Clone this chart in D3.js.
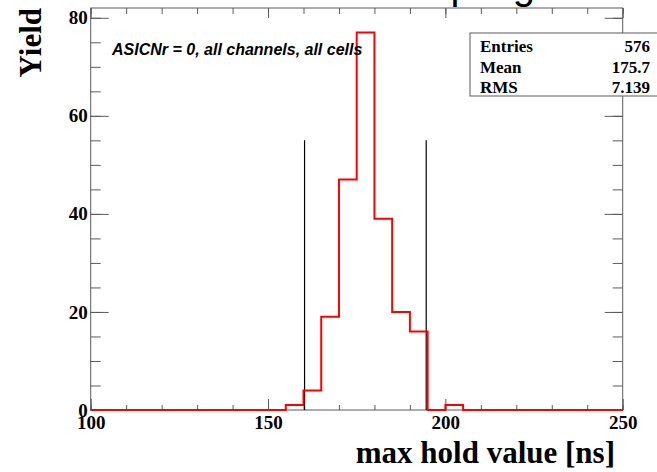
<!DOCTYPE html>
<html>
<head>
<meta charset="utf-8">
<script src="https://cdn.jsdelivr.net/npm/d3@7"></script>
<style>
body { margin: 0; background: #fff; }
svg { display: block; }
</style>
</head>
<body>
<div class="graph"></div>
<script>
// histogram contents: low edge of each filled bin (5 ns wide), everything else empty
const binLow = [155, 160, 165, 170, 175, 180, 185, 190, 195, 200]
const binCounts = [1, 4, 19, 47, 77, 39, 20, 16, 0, 1]
const binWidth = 5
const xRange = [100, 250]
const yRange = [0, 82]

// the two black cut lines
const cutValues = [160.3, 194.6]
const cutHeight = 55

const xLabels = [100, 150, 200, 250]
const yLabels = [0, 20, 40, 60, 80]

const statNames = ['Entries', 'Mean', 'RMS']
const statValues = ['576', '175.7', '7.139']

const dim = {
    w: 657,
    h: 472,
    left: 90.7,
    right: 622.7,
    top: 8,
    bottom: 410
}
const frameColor = '#5a5a5a'
const serif = '"Liberation Serif", "Times New Roman", serif'

const svg = d3.select('.graph')
    .append('svg')
    .attr('width', dim.w)
    .attr('height', dim.h)

const xScale = d3.scaleLinear()
    .domain(xRange)
    .range([dim.left, dim.right])

const yScale = d3.scaleLinear()
    .domain(yRange)
    .range([dim.bottom, dim.top])

// slide title, only the descenders peek in at the top
svg.append('text')
    .attr('x', 535)
    .attr('y', -1)
    .attr('text-anchor', 'end')
    .style('font-family', '"Liberation Sans", Arial, sans-serif')
    .style('font-size', '40px')
    .text('Sampling')

// frame
svg.append('rect')
    .attr('x', dim.left)
    .attr('y', dim.top)
    .attr('width', dim.right - dim.left)
    .attr('height', dim.bottom - dim.top)
    .attr('fill', 'none')
    .attr('stroke', frameColor)
    .attr('stroke-width', 1)

const styleAxis = (g) => {
    g.select('.domain').remove()
    g.selectAll('line').attr('stroke', frameColor)
    g.selectAll('text')
        .attr('fill', '#000')
        .style('font-family', serif)
        .style('font-weight', 'bold')
        .style('font-size', '19px')
}

const xMinor = d3.range(xRange[0], xRange[1] + 1, 10)
const yMinor = d3.range(yRange[0], 81, 5)

// bottom axis
svg.append('g')
    .attr('transform', `translate(0,${dim.bottom})`)
    .call(d3.axisBottom(xScale).tickValues(xMinor).tickSizeInner(-5).tickSizeOuter(0).tickFormat(''))
    .call(styleAxis)
svg.append('g')
    .attr('transform', `translate(0,${dim.bottom})`)
    .call(d3.axisBottom(xScale).tickValues(xLabels).tickSizeInner(-11).tickSizeOuter(0).tickPadding(6).tickFormat(d3.format('d')))
    .call(styleAxis)

// top axis (ticks only)
svg.append('g')
    .attr('transform', `translate(0,${dim.top})`)
    .call(d3.axisTop(xScale).tickValues(xMinor).tickSizeInner(-6).tickSizeOuter(0).tickFormat(''))
    .call(styleAxis)
svg.append('g')
    .attr('transform', `translate(0,${dim.top})`)
    .call(d3.axisTop(xScale).tickValues(xLabels).tickSizeInner(-10).tickSizeOuter(0).tickFormat(''))
    .call(styleAxis)

// left axis
svg.append('g')
    .attr('transform', `translate(${dim.left},0)`)
    .call(d3.axisLeft(yScale).tickValues(yMinor).tickSizeInner(-10).tickSizeOuter(0).tickFormat(''))
    .call(styleAxis)
svg.append('g')
    .attr('transform', `translate(${dim.left},0)`)
    .call(d3.axisLeft(yScale).tickValues(yLabels).tickSizeInner(-18).tickSizeOuter(0).tickPadding(3).tickFormat(d3.format('d')))
    .call(styleAxis)

// right axis (ticks only)
svg.append('g')
    .attr('transform', `translate(${dim.right},0)`)
    .call(d3.axisRight(yScale).tickValues(yMinor).tickSizeInner(-10).tickSizeOuter(0).tickFormat(''))
    .call(styleAxis)
svg.append('g')
    .attr('transform', `translate(${dim.right},0)`)
    .call(d3.axisRight(yScale).tickValues(yLabels).tickSizeInner(-18).tickSizeOuter(0).tickFormat(''))
    .call(styleAxis)

// cut lines
svg.selectAll('.cut')
    .data(cutValues)
    .enter()
    .append('line')
    .attr('class', 'cut')
    .attr('x1', d => xScale(d))
    .attr('x2', d => xScale(d))
    .attr('y1', yScale(0))
    .attr('y2', yScale(cutHeight))
    .attr('stroke', '#000')
    .attr('stroke-width', 1.2)

// histogram outline
let steps = [[xRange[0], 0]]
binLow.forEach((lo, i) => steps.push([lo, binCounts[i]]))
steps.push([binLow[binLow.length - 1] + binWidth, 0])
steps.push([xRange[1], 0])

const histLine = d3.line()
    .x(d => xScale(d[0]))
    .y(d => yScale(d[1]))
    .curve(d3.curveStepAfter)

svg.append('path')
    .datum(steps)
    .attr('d', histLine)
    .attr('fill', 'none')
    .attr('stroke', '#ff0000')
    .attr('stroke-width', 2)

// label inside the pad
svg.append('text')
    .attr('x', 112)
    .attr('y', 55)
    .style('font-family', '"Liberation Sans", Arial, sans-serif')
    .style('font-weight', 'bold')
    .style('font-style', 'italic')
    .style('font-size', '16px')
    .text('ASICNr = 0, all channels, all cells')

// stats box
const stats = svg.append('g')
stats.append('rect')
    .attr('x', 470)
    .attr('y', 33)
    .attr('width', 200)
    .attr('height', 63)
    .attr('fill', '#fff')
    .attr('stroke', frameColor)
    .attr('stroke-width', 1)

const statRows = [52, 73, 93]
statNames.forEach((name, i) => {
    stats.append('text')
        .attr('x', 480)
        .attr('y', statRows[i])
        .style('font-family', serif)
        .style('font-weight', 'bold')
        .style('font-size', '17px')
        .text(name)
    stats.append('text')
        .attr('x', 650)
        .attr('y', statRows[i])
        .attr('text-anchor', 'end')
        .style('font-family', serif)
        .style('font-weight', 'bold')
        .style('font-size', '17px')
        .text(statValues[i])
})

// axis titles
svg.append('text')
    .attr('transform', 'translate(41,8) rotate(-90)')
    .attr('text-anchor', 'end')
    .style('font-family', serif)
    .style('font-weight', 'bold')
    .style('font-size', '31px')
    .text('Yield')

svg.append('text')
    .attr('x', 615)
    .attr('y', 463)
    .attr('text-anchor', 'end')
    .style('font-family', serif)
    .style('font-weight', 'bold')
    .style('font-size', '31px')
    .text('max hold value [ns]')
</script>
</body>
</html>
